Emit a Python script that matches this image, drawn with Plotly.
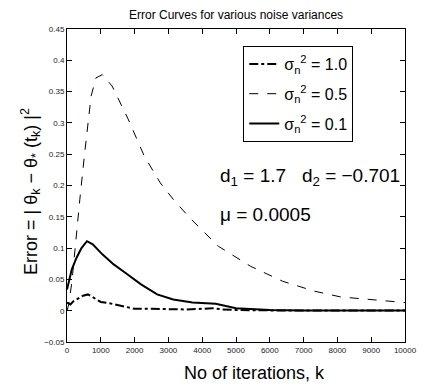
import plotly.graph_objects as go

# Data
k_10 = [0, 100, 190, 330, 476, 619, 800, 1000, 1250, 1500, 1750, 2000, 2500, 3000, 3500, 4000, 4300, 4600, 5000, 6000, 7000, 8000, 9000, 10000]
v_10 = [0.013, 0.010, 0.015, 0.020, 0.024, 0.026, 0.020, 0.014, 0.012, 0.009, 0.006, 0.003, 0.003, 0.002, 0.002, 0.003, 0.004, 0.002, 0.001, 0.0005, 0.0005, 0.0005, 0.0005, 0.0005]

k_05 = [0, 50, 143, 237, 380, 523, 617, 714, 857, 1046, 1333, 1810, 2286, 2762, 3143, 3619, 4476, 5429, 6381, 7333, 8095, 9048, 10000]
v_05 = [0.0, 0.01, 0.045, 0.103, 0.178, 0.252, 0.300, 0.343, 0.372, 0.377, 0.359, 0.306, 0.247, 0.204, 0.178, 0.149, 0.103, 0.071, 0.047, 0.031, 0.022, 0.018, 0.013]

k_01 = [0, 143, 286, 429, 590, 762, 1046, 1381, 1714, 2190, 2667, 3143, 3714, 4400, 5000, 5500, 6000, 7000, 8000, 9000, 10000]
v_01 = [0.034, 0.066, 0.085, 0.100, 0.111, 0.106, 0.090, 0.074, 0.061, 0.042, 0.026, 0.018, 0.013, 0.011, 0.004, 0.002, 0.001, 0.0005, 0.0005, 0.0005, 0.0005]

x_ticks = [0, 1000, 2000, 3000, 4000, 5000, 6000, 7000, 8000, 9000, 10000]
y_ticks = [-0.05, 0, 0.05, 0.1, 0.15, 0.2, 0.25, 0.3, 0.35, 0.4, 0.45]
y_tick_text = ["−0.05", "0", "0.05", "0.1", "0.15", "0.2", "0.25", "0.3", "0.35", "0.4", "0.45"]

names = ["σ<sub>n</sub><sup>2</sup> = 1.0", "σ<sub>n</sub><sup>2</sup> = 0.5", "σ<sub>n</sub><sup>2</sup> = 0.1"]

FONT = "Liberation Sans, Arial, Helvetica, sans-serif"
NB = "\u00a0"

fig = go.Figure()
fig.add_trace(go.Scatter(x=k_10, y=v_10, mode="lines", name=names[0], legendgroup="a",
                         line=dict(color="black", width=2, dash="dashdot")))
fig.add_trace(go.Scatter(x=k_05, y=v_05, mode="lines", name=names[1], legendgroup="b",
                         line=dict(color="black", width=1, dash="dash")))
fig.add_trace(go.Scatter(x=k_01, y=v_01, mode="lines", name=names[2], legendgroup="c",
                         line=dict(color="black", width=2)))

axis_common = dict(showline=True, linecolor="black", linewidth=1, mirror="ticks",
                   ticks="inside", ticklen=5, tickcolor="black", showgrid=False,
                   zeroline=False, tickfont=dict(size=8, color="#222", family=FONT))

fig.update_layout(
    width=429, height=390,
    margin=dict(l=67, r=13, t=29, b=48),
    paper_bgcolor="white", plot_bgcolor="white",
    font=dict(family=FONT, color="black"),
    showlegend=True,
    legend=dict(x=(249 - 67) / 349, y=(342 - 46) / 313, xanchor="left", yanchor="top",
                bordercolor="black", borderwidth=1, bgcolor="white",
                font=dict(size=16, family=FONT), tracegroupgap=6, itemwidth=30),
    xaxis=dict(range=[0, 10000], tickvals=x_ticks, ticktext=[str(v) for v in x_ticks], **axis_common),
    yaxis=dict(range=[-0.05, 0.45], tickvals=y_ticks, ticktext=y_tick_text, **axis_common),
    annotations=[
        dict(text="Error Curves for various noise variances", xref="paper", yref="paper",
             x=0.5, y=1.0, yshift=14, yanchor="middle", showarrow=False,
             font=dict(size=12, family=FONT)),
        dict(text="No of iterations, k", xref="paper", yref="paper",
             x=(261 - 67) / 349, y=0, yshift=-31, showarrow=False, xanchor="center", yanchor="middle",
             font=dict(size=18, family=FONT)),
        dict(text="Error = | θ<sub>k</sub> − θ<sub>*</sub> (t<sub>k</sub>) |<sup>2</sup>",
             xref="paper", yref="paper", x=0, xshift=-37, y=(342 - 192) / 313,
             textangle=-90, showarrow=False, xanchor="center", yanchor="middle",
             font=dict(size=18, family=FONT)),
        dict(text="d<sub>1</sub> = 1.7" + NB * 3 + "d<sub>2</sub> = −0.701", xref="paper", yref="paper",
             x=(223 - 67) / 349, y=(342 - 177) / 313, xanchor="left", yanchor="middle",
             showarrow=False, font=dict(size=19, family=FONT)),
        dict(text="μ = 0.0005", xref="paper", yref="paper",
             x=(223 - 67) / 349, y=(342 - 215) / 313, xanchor="left", yanchor="middle",
             showarrow=False, font=dict(size=19, family=FONT)),
    ],
)

fig.write_html("out.html")
